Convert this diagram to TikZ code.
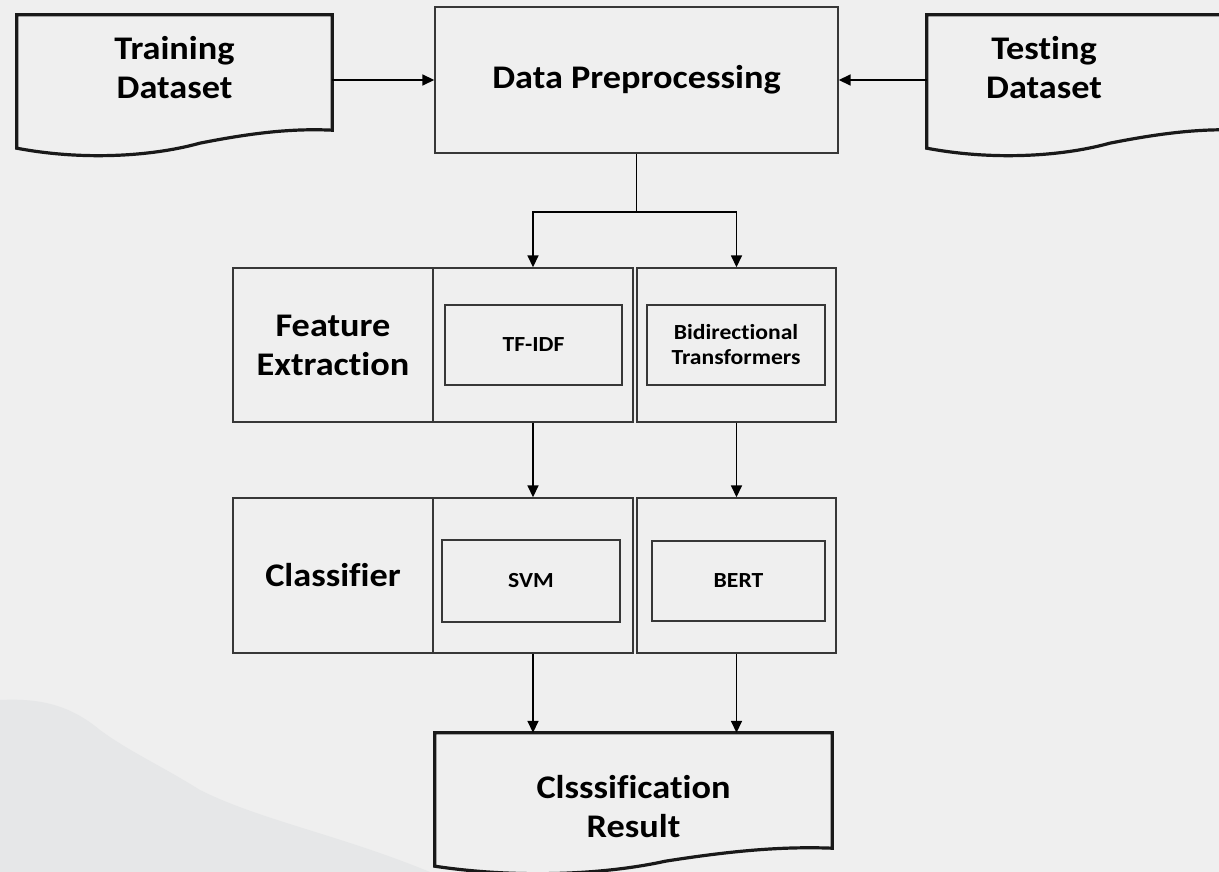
\documentclass[tikz,border=0pt]{standalone}
\usepackage{fontspec}
\setmainfont{Carlito}[FakeStretch=1.1, Ligatures={NoCommon,NoContextual}]
\usetikzlibrary{arrows.meta,calc}
\definecolor{bgc}{RGB}{239,239,239}
\definecolor{hillc}{RGB}{230,231,232}
\definecolor{boxc}{RGB}{55,55,55}
\tikzset{
  big/.style={font=\bfseries\fontsize{33}{39}\selectfont, align=center, text=black},
  small/.style={font=\bfseries\fontsize{21.5}{25}\selectfont, align=center, text=black},
  cellbox/.style={draw=boxc, line width=1.4pt, inner sep=0pt},
  innerbox/.style={draw=boxc, line width=1.3pt, inner sep=0pt},
  docnode/.style={draw=none, inner sep=0pt},
  docline/.style={draw=black!90, line width=3.2pt, line join=miter},
  conn/.style={draw=black, line width=1.6pt},
  arr/.style={conn, -{Triangle[length=12pt,width=11pt]}}
}
\newcommand\docpath[1]{%
  \draw[docline] (#1.north west) -- (#1.north east) -- ($(#1.south east)+(0,10)$)
  .. controls ($(#1.south west)!0.87!(#1.south east)+(0,8)$) and ($(#1.south west)!0.74!(#1.south east)+(0,13)$) .. ($(#1.south west)!0.58!(#1.south east)+(0,23)$)
  .. controls ($(#1.south west)!0.42!(#1.south east)+(0,37)$) and ($(#1.south west)!0.2!(#1.south east)+(0,40)$) .. ($(#1.south west)+(0,28)$) -- cycle;}
\begin{document}
\begin{tikzpicture}[x=1pt,y=-1pt]
\useasboundingbox (0,0) rectangle (1219,872);
\clip (0,0) rectangle (1219,872);
\fill[bgc] (0,0) rectangle (1219,872);
\fill[hillc] (0,700) .. controls (40,698) and (70,705) .. (100,730) .. controls (130,752) and (160,765) .. (200,790) .. controls (260,820) and (340,835) .. (430,872) -- (0,872) -- cycle;

% top row
\node[docnode, big, minimum width=315pt, minimum height=105pt] (train) at (174.5,67.5) {Training\\Dataset};
\docpath{train}
\node[cellbox, big, minimum width=403pt, minimum height=146pt] (dp) at (636.5,80) {Data Preprocessing};
\node[docnode, minimum width=315pt, minimum height=105pt] (test) at (1084.5,67.5) {};
\docpath{test}
\node[big] (testlbl) at (1044,67.5) {Testing\\Dataset};

% feature extraction row
\node[cellbox, big, minimum width=200pt, minimum height=154pt] (fe) at (333,345) {Feature\\Extraction};
\node[cellbox, minimum width=200pt, minimum height=154pt] (tfcell) at (533,345) {};
\node[cellbox, minimum width=199pt, minimum height=154pt] (bicell) at (736.5,345) {};
\node[innerbox, small, minimum width=177pt, minimum height=80pt] (tf) at (533.5,345) {TF-IDF};
\node[innerbox, small, minimum width=178pt, minimum height=80pt] (bi) at (736,345) {Bidirectional\\Transformers};

% classifier row
\node[cellbox, big, minimum width=200pt, minimum height=155pt] (cl) at (333,575.5) {Classifier};
\node[cellbox, minimum width=200pt, minimum height=155pt] (svmcell) at (533,575.5) {};
\node[cellbox, minimum width=199pt, minimum height=155pt] (bertcell) at (736.5,575.5) {};
\node[innerbox, small, minimum width=178pt, minimum height=82pt] (svm) at (531,581) {SVM};
\node[innerbox, small, minimum width=173pt, minimum height=80pt] (bert) at (738.5,581) {BERT};

% result
\node[docnode, minimum width=397pt, minimum height=105pt] (res) at (633.5,785.5) {};
\docpath{res}
\node[big] (reslbl) at (633.5,807) {Clsssification\\Result};

% connectors
\draw[arr] (train.east |- dp.west) -- (dp.west);
\draw[arr] (test.west |- dp.east) -- (dp.east);
\coordinate (split) at (636.5,212);
\draw[conn] (dp.south) -- (split);
\draw[arr] (split) -| (tfcell.north);
\draw[arr] (split) -| (bicell.north);
\draw[arr] (tfcell.south) -- (svmcell.north);
\draw[arr] (bicell.south) -- (bertcell.north);
\draw[arr] (svmcell.south) -- (svmcell.south |- res.north);
\draw[arr] (bertcell.south) -- (bertcell.south |- res.north);
\end{tikzpicture}
\end{document}
